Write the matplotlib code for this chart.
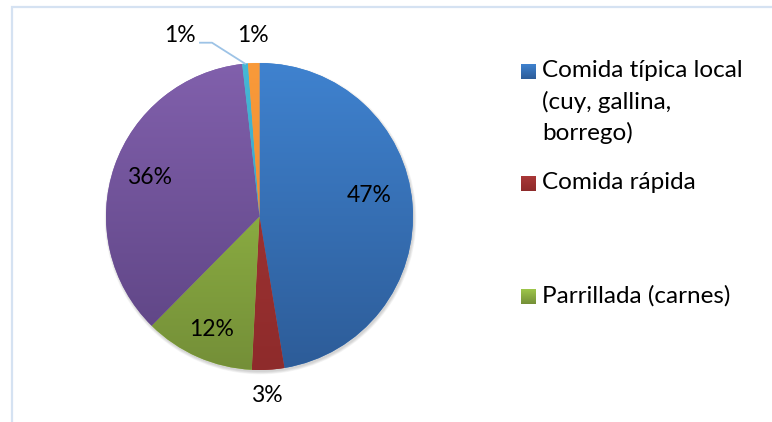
import matplotlib.pyplot as plt
import numpy as np
from matplotlib.colors import LinearSegmentedColormap
from matplotlib.patches import Circle

plt.rcParams['font.family'] = ['Lato', 'DejaVu Sans']

# доли (%) по секторам, по часовой стрелке от 12 часов
values = [47.4, 3.4, 11.6, 35.8, 0.6, 1.2]
# цвета секторов: верх / низ градиента
top_colors = ['#3F82CF', '#A93838', '#9EC64A', '#8160AC', '#45B8D6', '#F99A3A']
bottom_colors = ['#2D5C98', '#8E2B2B', '#748F38', '#5C4382', '#3399B8', '#E9852A']
# подписи легенды (видимые пункты)
legend_names = ['Comida típica local\n(cuy, gallina,\nborrego)',
                'Comida rápida',
                'Parrillada (carnes)']

W, H = 772, 422
cx, cy, R = 259.5, H - 216.5, 153.5

fig = plt.figure(figsize=(W / 100, H / 100), dpi=100)
ax = fig.add_axes([0, 0, 1, 1])

# тень под кругом
for k in range(5):
    ax.add_patch(Circle((cx + 1.0, cy - 2.0), R + 0.6 * k, color='#000000',
                        alpha=0.035, lw=0, zorder=0.5))

wedges, _ = ax.pie(values, colors=top_colors, startangle=90, counterclock=False,
                   center=(cx, cy), radius=R, wedgeprops=dict(linewidth=0))

# вертикальный градиент в каждом секторе
grad = np.linspace(0, 1, 256).reshape(-1, 1)
for w, c1, c2 in zip(wedges, top_colors, bottom_colors):
    cmap = LinearSegmentedColormap.from_list('g', [c1, c2])
    im = ax.imshow(grad, extent=(cx - R, cx + R, cy - R, cy + R), origin='upper',
                   cmap=cmap, aspect='auto', zorder=2)
    im.set_clip_path(w)

# подписи процентов
label_pos = [(369, 195), (267, 395), (212, 330), (150, 178), (180, 35), (253, 35)]
for v, (x, y) in zip(values, label_pos):
    ax.text(x, H - y, f'{round(v)}%', fontsize=16.5, ha='center', va='center',
            color='#000000', zorder=5)

# выноска для маленького сектора
ang = 90 - 360 * (sum(values[:4]) + values[4] / 2) / 100
px, py = cx + R * np.cos(np.radians(ang)), cy + R * np.sin(np.radians(ang))
ax.plot([200, 212, px], [H - 42.7, H - 42.7, py], color='#9DC3E6', lw=1.3, zorder=4)

# легенда
leg_y = [72, 184, 297]
for name, y, c1, c2 in zip(legend_names, leg_y, top_colors, bottom_colors):
    cmap = LinearSegmentedColormap.from_list('g', [c1, c2])
    ax.imshow(grad, extent=(521, 536, H - y - 7.5, H - y + 7.5), origin='upper',
              cmap=cmap, aspect='auto', zorder=3)
    ax.text(542, H - y + 12, name, fontsize=17.5, ha='left', va='top',
            color='#000000', linespacing=1.52)

# рамка области диаграммы
ax.plot([12, 12, W + 5], [-5, H - 7, H - 7], color='#D5E2F2', lw=1.6,
        solid_joinstyle='miter')

ax.set_xlim(0, W)
ax.set_ylim(0, H)
ax.set_aspect('auto')
ax.axis('off')

fig.savefig('out.png', dpi=100)
